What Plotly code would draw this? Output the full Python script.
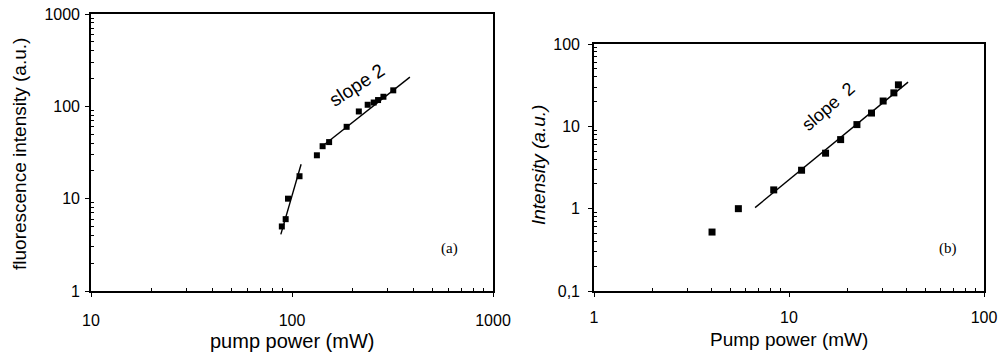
import plotly.graph_objects as go

W, H = 1006, 355

# Panel (a) data
a_power = [89, 93, 95.5, 109, 133, 142, 153, 187, 215, 238, 255, 268, 285, 319]
a_fluo = [5, 6, 10, 17.5, 29.5, 37, 41, 60, 88, 104, 110, 117, 127, 149]
a_fit1_x = [88, 111]
a_fit1_y = [4.1, 23.6]
a_fit2_x = [142, 386]
a_fit2_y = [37.2, 207]

# Panel (b) data
b_power = [4.03, 5.5, 8.35, 11.6, 15.4, 18.4, 22.3, 26.5, 30.4, 34.5, 36.4]
b_int = [0.52, 1.0, 1.69, 2.93, 4.72, 6.9, 10.5, 14.5, 20.3, 25.5, 31.9]
b_fit_x = [6.7, 40.8]
b_fit_y = [1.03, 34.4]

a_xticks = [10, 100, 1000]
a_xtext = ["10", "100", "1000"]
a_yticks = [1, 10, 100, 1000]
a_ytext = ["1", "10", "100", "1000"]
b_xticks = [1, 10, 100]
b_xtext = ["1", "10", "100"]
b_yticks = [0.1, 1, 10, 100]
b_ytext = ["0,1", "1", "10", "100"]

FONT = "Liberation Sans, Arial, sans-serif"

def px(x):
    return x / W

def py(y):
    return 1 - y / H

def minor_vals(decades):
    return [m * 10 ** d for d in decades for m in range(2, 10)]

fig = go.Figure()
fig.add_trace(go.Scatter(x=a_fit1_x, y=a_fit1_y, mode="lines",
                         line=dict(color="black", width=1.4), xaxis="x", yaxis="y"))
fig.add_trace(go.Scatter(x=a_fit2_x, y=a_fit2_y, mode="lines",
                         line=dict(color="black", width=1.4), xaxis="x", yaxis="y"))
fig.add_trace(go.Scatter(x=a_power, y=a_fluo, mode="markers",
                         marker=dict(symbol="square", size=6, color="black"),
                         xaxis="x", yaxis="y"))
fig.add_trace(go.Scatter(x=b_fit_x, y=b_fit_y, mode="lines",
                         line=dict(color="black", width=1.4), xaxis="x2", yaxis="y2"))
fig.add_trace(go.Scatter(x=b_power, y=b_int, mode="markers",
                         marker=dict(symbol="square", size=7, color="black"),
                         xaxis="x2", yaxis="y2"))

def axis(domain, rng, tv, tt, anchor, standoff, decades):
    return dict(type="log", domain=domain, range=rng, anchor=anchor, automargin=False,
                tickmode="array", tickvals=tv, ticktext=tt,
                ticks="outside", ticklen=4, tickwidth=1.2, tickcolor="black",
                showline=True, linecolor="black", linewidth=1.6, mirror=True,
                showgrid=False, zeroline=False,
                tickfont=dict(family=FONT, size=16, color="black"),
                ticklabelstandoff=standoff,
                minor=dict(ticks="inside", ticklen=3, tickwidth=1, tickcolor="black",
                           tickmode="array", tickvals=minor_vals(decades), showgrid=False))

fig.update_layout(
    width=W, height=H, margin=dict(l=0, r=0, t=0, b=0),
    paper_bgcolor="white", plot_bgcolor="white", showlegend=False,
    xaxis=axis([px(91), px(493)], [1, 3], a_xticks, a_xtext, "y", 10, [1, 2]),
    yaxis=axis([py(291), py(14)], [0, 3], a_yticks, a_ytext, "x", 2, [0, 1, 2]),
    xaxis2=axis([px(594), px(984)], [0, 2], b_xticks, b_xtext, "y2", 7, [0, 1]),
    yaxis2=axis([py(291), py(44)], [-1, 2], b_yticks, b_ytext, "x2", 5, [-1, 0, 1]),
)

ann = []
def text(x, y, s, size=19, angle=0, family=FONT, style="normal"):
    ann.append(dict(x=px(x), y=py(y), xref="paper", yref="paper", text=s,
                    showarrow=False, textangle=angle, xanchor="center", yanchor="middle",
                    font=dict(family=family, size=size, color="black", style=style)))

text(292, 341, "pump power (mW)", size=20)
text(19, 154, "fluorescence intensity (a.u.)", size=19, angle=-90)
text(356, 85, "slope 2", size=19, angle=-33)
text(449, 249, "(a)", size=15, family="Liberation Serif, Times New Roman, serif")
text(789, 339, "Pump power (mW)", size=19)
text(538, 165, "Intensity (a.u.)", size=19, angle=-90, style="italic")
text(828, 107, "slope&nbsp;&nbsp;2", size=18, angle=-41)
text(948, 249, "(b)", size=15, family="Liberation Serif, Times New Roman, serif")

fig.update_layout(annotations=ann)
fig.write_html("out.html", config={"displayModeBar": False},
               post_script="document.body.style.margin='0';document.body.style.overflow='hidden';")
